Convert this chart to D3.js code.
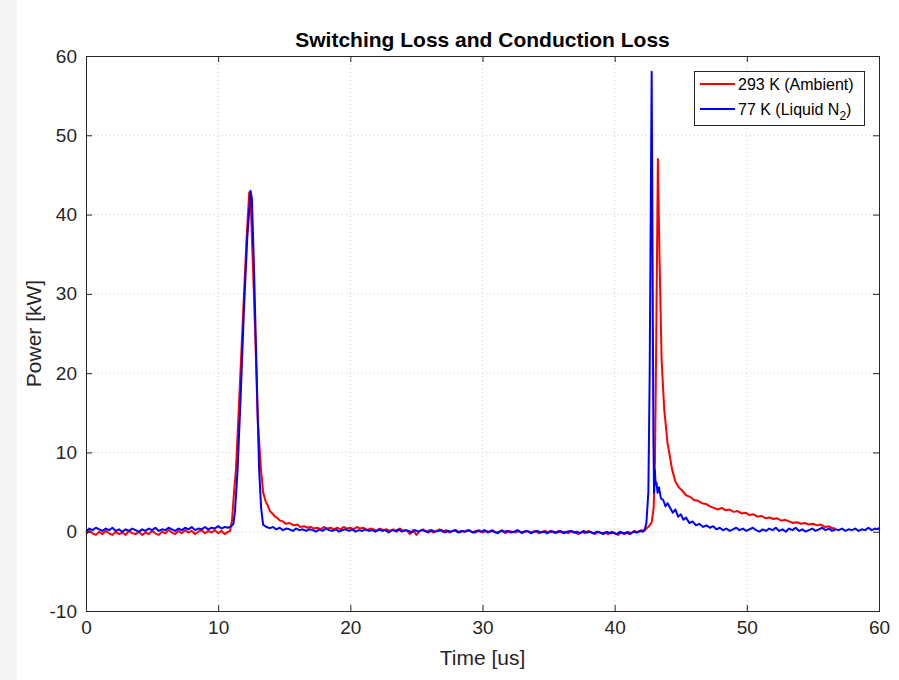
<!DOCTYPE html>
<html><head><meta charset="utf-8">
<script src="https://cdn.jsdelivr.net/npm/d3@7"></script>
<style>body{margin:0;background:#fff}svg{display:block}text{font-family:"Liberation Sans",Arial,sans-serif}</style>
</head><body>
<script>
// Time in µs, power in kW
const xTicks = [0,10,20,30,40,50,60];
const yTicks = [-10,0,10,20,30,40,50,60];
const seriesNames = ["293 K (Ambient)", "77 K (Liquid N2)"];

const redPart1 = [[0,-0.3],[0.25,0.1],[0.5,-0.2],[0.75,-0.4],[1,0.0],[1.25,-0.3],[1.5,0.1],[1.75,-0.2],[2,-0.4],[2.25,0.0],[2.5,-0.3],[2.75,-0.1],[3,-0.4],[3.25,0.1],[3.5,-0.2],[3.75,-0.3],[4,0.0],[4.25,-0.4],[4.5,-0.1],[4.75,-0.3],[5,0.1],[5.25,-0.2],[5.5,-0.4],[5.75,0.0],[6,-0.2],[6.25,0.2],[6.5,-0.1],[6.75,-0.3],[7,0.1],[7.25,-0.2],[7.5,0.2],[7.75,-0.1],[8,0.1],[8.25,-0.3],[8.5,0.0],[8.75,0.2],[9,-0.2],[9.25,0.1],[9.5,-0.1],[9.75,0.2],[10,-0.2],[10.25,0.1],[10.5,-0.3],[10.75,0.0]];
const redPart2 = [[10.9,0.1],[11.05,1.5],[11.2,5],[11.35,8],[11.6,17],[11.9,28],[12.15,37],[12.35,42.8],[12.45,42],[12.6,35],[12.8,25],[13.0,14],[13.24,7.8],[13.41,4.9],[13.6,3.8],[13.75,3.3],[13.92,2.6],[14.1,2.3],[14.3,1.9],[14.5,1.7],[14.67,1.4],[14.9,1.3],[15.1,1.0],[15.4,1.1],[15.7,0.8],[16.0,0.9],[16.2,0.6],[16.5,0.7],[16.75,0.5],[17,0.6],[17.25,0.4],[17.5,0.5],[17.75,0.3],[18,0.6],[18.25,0.4],[18.5,0.5],[18.75,0.3],[19,0.5],[19.25,0.3],[19.5,0.6],[19.75,0.4],[20,0.5],[20.25,0.3],[20.5,0.6],[20.75,0.4],[21,0.5],[21.25,0.2],[21.5,0.4],[21.75,0.3],[22,0.1],[22.25,0.4],[22.5,0.2],[22.75,0.3],[23,0.1],[23.25,0.3],[23.5,0.0],[23.75,0.4],[24,0.1],[24.25,0.2],[24.5,-0.3],[24.75,0.2],[25,-0.4],[25.25,0.1],[25.5,0.3],[25.75,0.0],[26,0.2],[26.25,-0.1],[26.5,0.1],[26.75,0.3],[27,0.0],[27.25,0.2],[27.5,-0.1],[27.75,0.1],[28,0.2],[28.25,-0.1],[28.5,0.1],[28.75,0.0],[29,0.2],[29.25,-0.1],[29.5,0.1],[29.75,0.2]];
const redPart3 = [[30,-0.1],[30.25,0.1],[30.5,0.0],[30.75,0.2],[31,-0.1],[31.25,0.0],[31.5,0.2],[31.75,-0.2],[32,0.1],[32.25,0.0],[32.5,-0.1],[32.75,0.1],[33,-0.2],[33.25,0.1],[33.5,0.0],[33.75,-0.1],[34,0.1],[34.25,-0.2],[34.5,0.0],[34.75,0.1],[35,-0.1],[35.25,0.0],[35.5,-0.2],[35.75,0.1],[36,-0.1],[36.25,0.0],[36.5,-0.2],[36.75,0.1],[37,-0.1],[37.25,-0.3],[37.5,0.0],[37.75,-0.2],[38,0.1],[38.25,-0.1],[38.5,-0.3],[38.75,0.0],[39,-0.2],[39.25,-0.1],[39.5,-0.3],[39.75,0.0],[40,-0.2],[40.25,-0.4],[40.5,-0.1],[40.75,-0.3],[41,0.0],[41.25,-0.2],[41.5,0.1],[41.75,-0.1],[42,0.2],[42.25,0.1],[42.4,0.4],[42.6,0.7],[42.8,1.2],[42.95,3],[43.05,9],[43.15,25],[43.27,47],[43.4,34],[43.55,21.7],[43.75,15.4],[44.0,11.2],[44.35,7.8],[44.6,6.3],[44.85,5.6],[45.1,5.2],[45.4,4.6],[45.7,4.4],[46.0,4.0],[46.3,3.9],[46.6,3.6],[46.9,3.5],[47.2,3.2],[47.5,3.0],[47.8,2.8],[48.1,3.0],[48.4,2.7],[48.7,2.8],[49.0,2.5],[49.3,2.6],[49.6,2.3],[49.9,2.4],[50.2,2.1],[50.5,2.2],[50.8,1.9],[51.1,2.0],[51.4,1.7],[51.7,1.8],[52.0,1.6],[52.3,1.7],[52.6,1.4],[52.9,1.5],[53.2,1.3],[53.5,1.1],[53.8,1.2],[54.1,1.0],[54.4,1.1],[54.7,0.9],[55.0,1.0],[55.3,0.8],[55.6,0.9],[55.9,0.6],[56.2,0.7],[56.5,0.4],[56.65,0.5]];

const bluePart1 = [[0,0.0],[0.25,0.4],[0.5,0.2],[0.75,0.5],[1,0.3],[1.25,0.1],[1.5,0.4],[1.75,0.2],[2,0.5],[2.25,0.1],[2.5,0.3],[2.75,0.0],[3,0.3],[3.25,0.1],[3.5,0.4],[3.75,0.2],[4,0.0],[4.25,0.3],[4.5,0.1],[4.75,0.4],[5,0.2],[5.25,0.5],[5.5,0.1],[5.75,0.3],[6,0.2],[6.25,0.5],[6.5,0.3],[6.75,0.1],[7,0.4],[7.25,0.2],[7.5,0.5],[7.75,0.3],[8,0.6],[8.25,0.2],[8.5,0.4],[8.75,0.3],[9,0.6],[9.25,0.3],[9.5,0.5],[9.75,0.4],[10,0.7],[10.25,0.4],[10.5,0.6],[10.75,0.5],[11,0.7]];
const bluePart2 = [[11.15,1.0],[11.27,2.5],[11.47,7.8],[11.7,17],[11.95,28],[12.2,37],[12.45,43],[12.55,42],[12.7,34],[12.85,24],[13.0,14],[13.1,7.8],[13.25,3],[13.4,0.9],[13.65,0.6],[13.9,0.45],[14.15,0.6],[14.4,0.3],[14.65,0.5],[14.9,0.2],[15.15,0.4],[15.4,0.3],[15.65,0.1],[15.9,0.4],[16.15,0.2],[16.4,0.3],[16.65,0.1],[16.9,0.3],[17.15,0.2],[17.4,0.0],[17.65,0.3],[17.9,0.1],[18.15,0.4],[18.4,0.2],[18.65,0.1],[18.9,0.3],[19.15,0.0],[19.4,0.2],[19.65,0.3],[19.9,0.1],[20.15,0.3],[20.4,0.0],[20.65,0.2],[20.9,0.1],[21.15,0.3],[21.4,0.1],[21.65,0.2],[21.9,0.0],[22.15,0.3],[22.4,0.1],[22.65,0.2],[22.9,-0.1],[23.15,0.2],[23.4,0.1],[23.65,0.3],[23.9,0.0],[24.15,0.2],[24.4,0.1],[24.65,-0.1],[24.9,0.2],[25.15,0.0],[25.4,0.2],[25.65,0.1],[25.9,-0.1],[26.15,0.2],[26.4,0.0],[26.65,0.1],[26.9,0.2],[27.15,-0.1],[27.4,0.1],[27.65,0.0],[27.9,0.2],[28.15,-0.1],[28.4,0.1],[28.65,0.0],[28.9,0.2],[29.15,0.0],[29.4,-0.1],[29.65,0.1],[29.9,0.0]];
const bluePart3 = [[30.15,0.2],[30.4,-0.1],[30.65,0.1],[30.9,0.0],[31.15,-0.2],[31.4,0.1],[31.65,0.0],[31.9,0.1],[32.15,-0.1],[32.4,0.0],[32.65,0.2],[32.9,-0.1],[33.15,0.0],[33.4,0.1],[33.65,-0.2],[33.9,0.0],[34.15,0.1],[34.4,-0.1],[34.65,0.0],[34.9,-0.2],[35.15,0.1],[35.4,0.0],[35.65,-0.1],[35.9,0.1],[36.15,-0.2],[36.4,0.0],[36.65,0.1],[36.9,-0.1],[37.15,0.0],[37.4,-0.2],[37.65,0.1],[37.9,-0.1],[38.15,0.0],[38.4,-0.2],[38.65,0.0],[38.9,-0.1],[39.15,-0.3],[39.4,0.0],[39.65,-0.2],[39.9,-0.1],[40.15,-0.3],[40.4,0.0],[40.65,-0.2],[40.9,-0.1],[41.15,-0.3],[41.4,0.0],[41.65,-0.1],[41.9,0.1],[42.15,0.0],[42.3,0.4],[42.4,1.1],[42.55,5],[42.65,20],[42.8,58],[42.88,30],[42.93,12],[42.98,4.9],[43.04,7.8],[43.1,6.0],[43.16,6.2],[43.25,4.9],[43.35,5.6],[43.5,4.2],[43.67,4.0],[43.85,3.2],[44.0,3.6],[44.2,3.0],[44.4,2.4],[44.6,2.8],[44.8,1.9],[45.0,2.2],[45.2,1.5],[45.4,1.8],[45.65,1.1],[45.9,1.3],[46.15,0.8],[46.4,1.0],[46.7,0.6],[46.95,0.8],[47.2,0.5],[47.45,0.7]];
const bluePart4 = [[47.7,0.3],[47.95,0.5],[48.2,0.2],[48.45,0.4],[48.7,0.1],[48.95,0.3],[49.2,0.5],[49.45,0.2],[49.7,0.4],[49.95,0.1],[50.2,0.3],[50.45,0.5],[50.7,0.2],[50.95,0.0],[51.2,0.3],[51.45,0.1],[51.7,0.4],[51.95,0.2],[52.2,0.5],[52.45,0.1],[52.7,0.3],[52.95,0.0],[53.2,0.4],[53.45,0.2],[53.7,0.5],[53.95,0.1],[54.2,0.3],[54.45,0.0],[54.7,0.2],[54.95,0.4],[55.2,0.1],[55.45,0.3],[55.7,0.5],[55.95,0.2],[56.2,0.4],[56.45,0.1],[56.7,0.3],[56.95,0.2],[57.2,0.4],[57.45,0.1],[57.7,0.3],[57.95,0.2],[58.2,0.4],[58.45,0.1],[58.7,0.3],[58.95,0.2],[59.2,0.5],[59.45,0.2],[59.7,0.4],[59.9,0.3],[60,0.5]];

const red = redPart1.concat(redPart2, redPart3);
const blue = bluePart1.concat(bluePart2, bluePart3, bluePart4);

const W = 899, H = 680;
const m = {left: 86, right: 879, top: 56, bottom: 611};
const svg = d3.select("body").append("svg").attr("width", W).attr("height", H);

// faint page background strip on the left
svg.append("rect").attr("x",0).attr("y",0).attr("width",17).attr("height",H).attr("fill","#f4f4f4");

const x = d3.scaleLinear().domain([0,60]).range([m.left, m.right]);
const y = d3.scaleLinear().domain([-10,60]).range([m.bottom, m.top]);

const axisColor = "#262626";
// grid
const grid = svg.append("g");
grid.selectAll(".gx").data(xTicks.slice(1,-1)).join("line")
  .attr("x1", d=>x(d)).attr("x2", d=>x(d)).attr("y1", m.top).attr("y2", m.bottom)
  .attr("stroke","#cfcfcf").attr("stroke-width",1).attr("stroke-dasharray","1,3");
grid.selectAll(".gy").data(yTicks.slice(1,-1)).join("line")
  .attr("y1", d=>y(d)).attr("y2", d=>y(d)).attr("x1", m.left).attr("x2", m.right)
  .attr("stroke","#cfcfcf").attr("stroke-width",1).attr("stroke-dasharray","1,3");

// lines
const line = d3.line().x(d=>x(d[0])).y(d=>y(d[1]));
svg.append("path").datum(red).attr("d", line).attr("fill","none").attr("stroke","#ff0000").attr("stroke-width",2).attr("stroke-linejoin","round");
svg.append("path").datum(blue).attr("d", line).attr("fill","none").attr("stroke","#0000ff").attr("stroke-width",2).attr("stroke-linejoin","round");

// axes (ticks inward on all four sides)
const fs = "19px";
const fmt = d => String(d);
const gB = svg.append("g").attr("transform",`translate(0,${m.bottom})`)
  .call(d3.axisBottom(x).tickValues(xTicks).tickSize(-6).tickPadding(10).tickFormat(fmt));
const gT = svg.append("g").attr("transform",`translate(0,${m.top})`)
  .call(d3.axisTop(x).tickValues(xTicks).tickSize(-6).tickFormat(""));
const gL = svg.append("g").attr("transform",`translate(${m.left},0)`)
  .call(d3.axisLeft(y).tickValues(yTicks).tickSize(-6).tickPadding(9).tickFormat(fmt));
const gR = svg.append("g").attr("transform",`translate(${m.right},0)`)
  .call(d3.axisRight(y).tickValues(yTicks).tickSize(-6).tickFormat(""));
[gB,gT,gL,gR].forEach(g=>{
  g.select(".domain").attr("stroke",axisColor).attr("stroke-width",1);
  g.selectAll(".tick line").attr("stroke",axisColor);
  g.selectAll(".tick text").attr("fill",axisColor).style("font-size",fs).style("font-family","'Liberation Sans',Arial,sans-serif");
});

// title & labels
svg.append("text").attr("x",(m.left+m.right)/2).attr("y",47).attr("text-anchor","middle")
  .style("font-size","21px").style("font-weight","bold").attr("fill","#000").text("Switching Loss and Conduction Loss");
svg.append("text").attr("x",(m.left+m.right)/2).attr("y",665).attr("text-anchor","middle")
  .style("font-size","21px").attr("fill",axisColor).text("Time [us]");
svg.append("text").attr("transform",`translate(41,${(m.top+m.bottom)/2}) rotate(-90)`).attr("text-anchor","middle")
  .style("font-size","21px").attr("fill",axisColor).text("Power [kW]");

// legend
const lg = svg.append("g");
lg.append("rect").attr("x",694.5).attr("y",71.5).attr("width",170).attr("height",54).attr("fill","#fff").attr("stroke",axisColor).attr("stroke-width",1);
const colors = ["#ff0000","#0000ff"];
const ly = [84, 109];
seriesNames.forEach((n,i)=>{
  lg.append("line").attr("x1",700).attr("x2",735).attr("y1",ly[i]).attr("y2",ly[i]).attr("stroke",colors[i]).attr("stroke-width",2);
  const t = lg.append("text").attr("x",738).attr("y",ly[i]+6).style("font-size","16px").attr("fill","#000");
  if (n.includes("N2")) {
    t.append("tspan").text(n.replace("N2)","N"));
    t.append("tspan").attr("dy",5).style("font-size","12px").text("2");
    t.append("tspan").attr("dy",-5).text(")");
  } else t.text(n);
});
</script>
</body></html>
